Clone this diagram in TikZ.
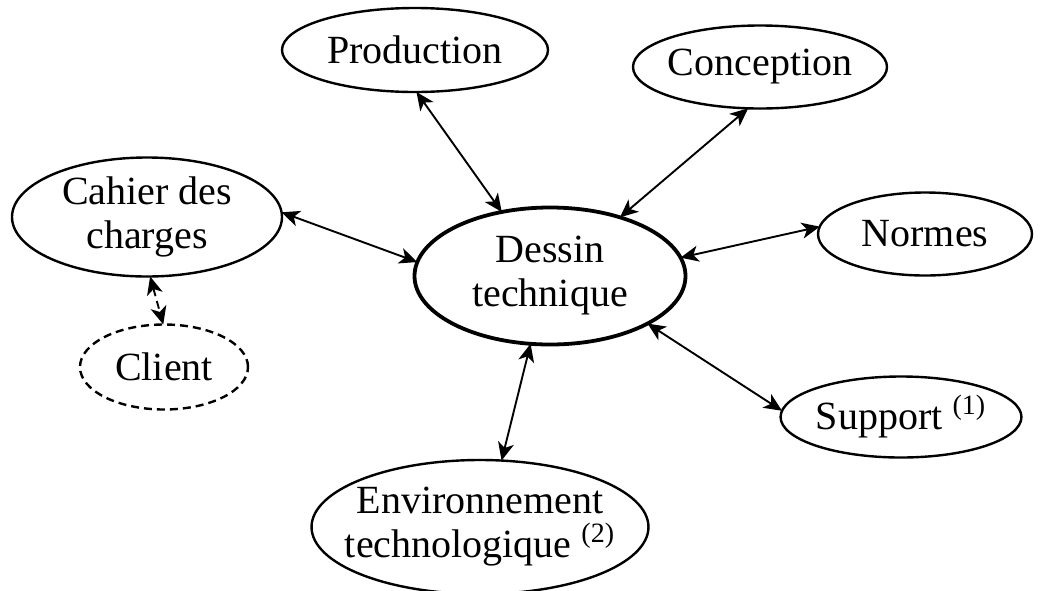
\documentclass[tikz,border=0pt]{standalone}
\usepackage{fontspec}
\setmainfont{Liberation Serif}
\usepackage{tikz}
\usetikzlibrary{shapes.geometric, arrows.meta, positioning}
\tikzstyle{bubble} = [ellipse, draw=black, line width=1.2pt, inner sep=0pt, outer sep=0pt, align=center, font=\fontsize{20}{22}\selectfont]
\tikzstyle{mainbubble} = [bubble, line width=1.9pt, font=\fontsize{20}{22}\selectfont]
\tikzstyle{dashbubble} = [bubble, dash pattern=on 4pt off 2.5pt]
\tikzstyle{arrow} = [line width=0.95pt, {Stealth[length=9pt,width=8pt,inset=2.5pt]}-{Stealth[length=9pt,width=8pt,inset=2.5pt]}]
\tikzstyle{dasharrow} = [arrow, dash pattern=on 4pt off 2.5pt]

\begin{document}
\begin{tikzpicture}[x=0.5pt, y=-0.5pt]
\useasboundingbox (0,0) rectangle (1044,590);

\node (dessin) [mainbubble, minimum width=135.5pt, minimum height=68.5pt] at (550,276) {Dessin\\technique};
\node (prod) [bubble, minimum width=133pt, minimum height=42pt] at (415,50) {Production};
\node (concep) [bubble, minimum width=127pt, minimum height=41.5pt, inner xsep=-2pt] at (760,67) {Conception};
\node (cahier) [bubble, minimum width=135pt, minimum height=59.5pt] at (147,217) {Cahier des\\charges};
\node (client) [dashbubble, minimum width=84pt, minimum height=42.5pt] at (164,367) {Client};
\node (normes) [bubble, minimum width=107pt, minimum height=41.5pt] at (925,234) {Normes};
\node (support) [bubble, minimum width=118.5pt, minimum height=40.5pt] at (901,417) {Support \textsuperscript{(1)}};
\node (env) [bubble, minimum width=167pt, minimum height=67pt, inner xsep=-8pt, font=\fontsize{20}{22}\selectfont] at (480,527) {Environnement\\technologique \textsuperscript{(2)}};

\draw [arrow] (prod.-88) -- (dessin.127);
\draw [arrow] (concep.-106) -- (dessin.40);
\draw [arrow] (cahier.2) -- (dessin.174);
\draw [arrow] (normes.176) -- (dessin.8);
\draw [arrow] (support.177) -- (dessin.-26);
\draw [arrow] (env.72) -- (dessin.-106);
\draw [dasharrow] (cahier.-87) -- (client.91);

\end{tikzpicture}
\end{document}
